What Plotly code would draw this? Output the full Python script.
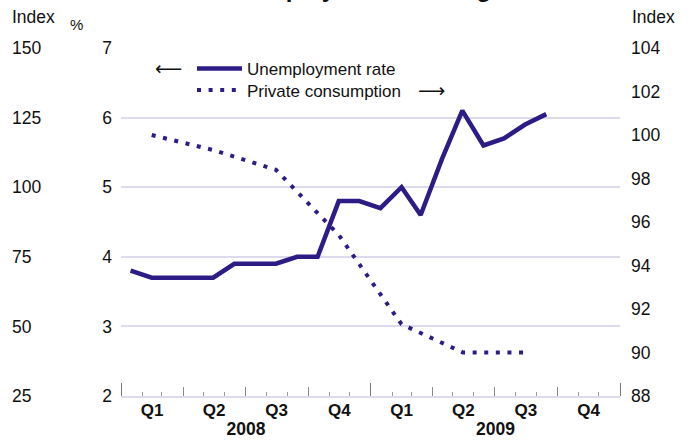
import pandas as pd
import plotly.graph_objects as go

# ---- data ----
unemp_start = "2008-01-01"
unemployment_rate = [3.8, 3.7, 3.7, 3.7, 3.7, 3.9, 3.9, 3.9, 4.0, 4.0, 4.8, 4.8,
                     4.7, 5.0, 4.6, 5.4, 6.1, 5.6, 5.7, 5.9, 6.05]
consumption_start = "2008-01-01"
private_consumption = [100.0, 99.3, 98.4, 95.4, 91.3, 90.0, 90.0]
title_text = "Unemployment is rising"

months = pd.date_range(unemp_start, periods=len(unemployment_rate), freq="MS") + pd.Timedelta(days=14)
quarters = pd.date_range(consumption_start, periods=len(private_consumption), freq="QS") + pd.Timedelta(days=45)

INK = "#2d1b86"
GRID = "#dcdbee"
FONT = "Liberation Sans"
W, H = 690, 440
ML, MR, MT, MB = 0, 70, 48, 44
PW = W - ML - MR
PH = H - MT - MB
X0 = 121


def px_x(x):
    return (x - ML) / PW


def px_y(y):
    return (H - MB - y) / PH


fig = go.Figure()
fig.add_trace(go.Scatter(x=months, y=unemployment_rate, name="Unemployment rate",
                         mode="lines", line=dict(color=INK, width=4.5),
                         xaxis="x", yaxis="y", legend="legend"))
fig.add_trace(go.Scatter(x=quarters, y=private_consumption, name="Private consumption",
                         mode="lines", line=dict(color=INK, width=4, dash="4px,7.6px"),
                         xaxis="x", yaxis="y2", legend="legend2"))
# empty traces to anchor helper axes
fig.add_trace(go.Scatter(x=[], y=[], xaxis="x2", yaxis="y", showlegend=False, hoverinfo="skip"))
fig.add_trace(go.Scatter(x=[], y=[], xaxis="x", yaxis="y3", showlegend=False, hoverinfo="skip"))

xr = ["2008-01-01", "2010-01-01"]
dom = [px_x(X0), 1]

leg_common = dict(xanchor="left", yanchor="top", bgcolor="rgba(0,0,0,0)",
                  font=dict(size=17, color="#111"), itemwidth=45)

fig.update_layout(
    width=W, height=H,
    margin=dict(l=ML, r=MR, t=MT, b=MB, autoexpand=False),
    paper_bgcolor="white", plot_bgcolor="white",
    font=dict(family=FONT, size=17.5, color="#111"),
    showlegend=True,
    legend=dict(x=px_x(192), y=px_y(51), **leg_common),
    legend2=dict(x=px_x(192), y=px_y(72.5), **leg_common),
    xaxis=dict(type="date", range=xr, domain=dom, anchor="y", automargin=False,
               dtick="M3", tick0="2008-01-01", tickformat="Q%q", ticklabelmode="period",
               ticks="inside", ticklen=9, tickcolor="#8a8a8a", tickwidth=1,
               minor=dict(dtick="M1", ticks="inside", ticklen=4, tickcolor="#9a9a9a", showgrid=False),
               showgrid=False, showline=True, linecolor=GRID, linewidth=1.5,
               tickfont=dict(size=17, weight="bold", color="#111"), ticklabelstandoff=-2),
    xaxis2=dict(type="date", range=xr, domain=dom, overlaying="x", anchor="y", side="bottom",
                automargin=False,
                dtick="M12", tick0="2008-01-01", tickformat="%Y", ticklabelmode="period",
                ticks="inside", ticklen=13, tickcolor="#777", tickwidth=1.2,
                showgrid=False, showline=False,
                tickfont=dict(size=17.5, weight="bold", color="#111"), ticklabelstandoff=20),
    yaxis=dict(range=[2, 7], dtick=1, anchor="x", side="left", automargin=False,
               showgrid=True, gridcolor=GRID, gridwidth=1.5, zeroline=False,
               ticks="", showline=False, tickfont=dict(size=17.5, color="#111"),
               ticklabelstandoff=8),
    yaxis2=dict(range=[88, 104], dtick=2, overlaying="y", anchor="x", side="right",
                automargin=False,
                showgrid=False, zeroline=False, ticks="", showline=False,
                tickfont=dict(size=17.5, color="#111"), ticklabelstandoff=10),
    yaxis3=dict(range=[25, 150], dtick=25, overlaying="y", anchor="free", position=0,
                automargin=False,
                side="right", showgrid=False, zeroline=False, ticks="", showline=False,
                tickfont=dict(size=17.5, color="#111"), ticklabelstandoff=11),
)

ann = []
ann.append(dict(text="Index", x=px_x(10), y=px_y(17), xref="paper", yref="paper",
                xanchor="left", yanchor="middle", showarrow=False, font=dict(size=17.5)))
ann.append(dict(text="%", x=px_x(68), y=px_y(24), xref="paper", yref="paper",
                xanchor="left", yanchor="middle", showarrow=False, font=dict(size=15)))
ann.append(dict(text="Index", x=px_x(630), y=px_y(17), xref="paper", yref="paper",
                xanchor="left", yanchor="middle", showarrow=False, font=dict(size=17.5)))
ann.append(dict(text="<b>" + title_text + "</b>", x=px_x(355), y=px_y(4), xref="paper", yref="paper",
                xanchor="center", yanchor="bottom", showarrow=False, font=dict(size=24)))
ann.append(dict(text="\u27f5", x=px_x(168), y=px_y(68), xref="paper", yref="paper",
                xanchor="center", yanchor="middle", showarrow=False,
                font=dict(size=19, family="DejaVu Sans", color="#111")))
ann.append(dict(text="\u27f6", x=px_x(431), y=px_y(90), xref="paper", yref="paper",
                xanchor="center", yanchor="middle", showarrow=False,
                font=dict(size=19, family="DejaVu Sans", color="#111")))
fig.update_layout(annotations=ann)

fig.write_html("out.html", config={"displayModeBar": False},
               post_script="document.body.style.margin='0';")
